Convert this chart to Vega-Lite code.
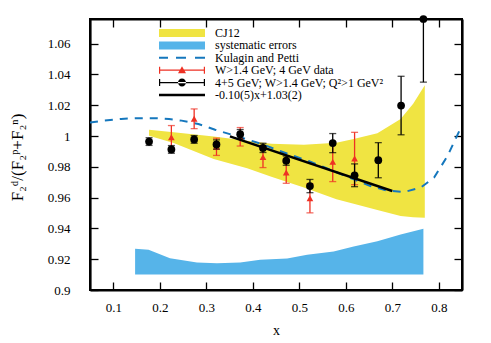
{
  "$schema": "https://vega.github.io/schema/vega-lite/v6.json",
  "width": 372,
  "height": 271,
  "autosize": "none",
  "padding": {"left": 90, "top": 19, "right": 29, "bottom": 53},
  "config": {"font": "Liberation Serif", "view": {"stroke": "black", "strokeWidth": 2}, "axis": {"grid": false}},
  "datasets": {
    "syst": [
      {"x": 0.147, "hi": 0.9268}, {"x": 0.176, "hi": 0.9261}, {"x": 0.222, "hi": 0.9207},
      {"x": 0.28, "hi": 0.9179}, {"x": 0.323, "hi": 0.9174}, {"x": 0.373, "hi": 0.9179},
      {"x": 0.416, "hi": 0.9196}, {"x": 0.474, "hi": 0.9205}, {"x": 0.517, "hi": 0.9229},
      {"x": 0.574, "hi": 0.925}, {"x": 0.617, "hi": 0.9283}, {"x": 0.668, "hi": 0.9316},
      {"x": 0.718, "hi": 0.936}, {"x": 0.767, "hi": 0.9397}
    ],
    "cj12": [
      {"x": 0.177, "lo": 1.0002, "hi": 1.004}, {"x": 0.23, "lo": 0.9955, "hi": 1.0025},
      {"x": 0.316, "lo": 0.985, "hi": 0.9997}, {"x": 0.388, "lo": 0.979, "hi": 0.997},
      {"x": 0.44, "lo": 0.9735, "hi": 0.995}, {"x": 0.51, "lo": 0.9665, "hi": 0.9943},
      {"x": 0.58, "lo": 0.959, "hi": 0.9957}, {"x": 0.617, "lo": 0.956, "hi": 0.998},
      {"x": 0.668, "lo": 0.952, "hi": 1.0018}, {"x": 0.718, "lo": 0.948, "hi": 1.011},
      {"x": 0.745, "lo": 0.9473, "hi": 1.021}, {"x": 0.77, "lo": 0.9469, "hi": 1.033}
    ],
    "kp": [
      {"x": 0.05, "y": 1.0087}, {"x": 0.08, "y": 1.01}, {"x": 0.117, "y": 1.0111},
      {"x": 0.15, "y": 1.0116}, {"x": 0.189, "y": 1.0116}, {"x": 0.22, "y": 1.011},
      {"x": 0.247, "y": 1.01}, {"x": 0.283, "y": 1.0078}, {"x": 0.319, "y": 1.0041},
      {"x": 0.362, "y": 1.0002}, {"x": 0.419, "y": 0.9948}, {"x": 0.477, "y": 0.9882},
      {"x": 0.52, "y": 0.9838}, {"x": 0.58, "y": 0.9765}, {"x": 0.62, "y": 0.9715},
      {"x": 0.653, "y": 0.9675}, {"x": 0.69, "y": 0.9645}, {"x": 0.725, "y": 0.9636},
      {"x": 0.761, "y": 0.9665}, {"x": 0.79, "y": 0.973}, {"x": 0.819, "y": 0.9871},
      {"x": 0.85, "y": 1.007}
    ],
    "red": [
      {"x": 0.225, "y": 0.9992, "err": 0.0076}, {"x": 0.274, "y": 1.0112, "err": 0.0064},
      {"x": 0.322, "y": 0.993, "err": 0.0056}, {"x": 0.373, "y": 0.9995, "err": 0.006},
      {"x": 0.422, "y": 0.9863, "err": 0.0068}, {"x": 0.472, "y": 0.9763, "err": 0.007},
      {"x": 0.523, "y": 0.9596, "err": 0.0095}, {"x": 0.572, "y": 0.9832, "err": 0.0128},
      {"x": 0.619, "y": 0.9854, "err": 0.017}
    ],
    "black": [
      {"x": 0.177, "y": 0.9964, "err": 0.0025}, {"x": 0.225, "y": 0.9913, "err": 0.0025},
      {"x": 0.274, "y": 0.9978, "err": 0.0025}, {"x": 0.322, "y": 0.9945, "err": 0.003},
      {"x": 0.373, "y": 1.0012, "err": 0.003}, {"x": 0.422, "y": 0.9923, "err": 0.003},
      {"x": 0.472, "y": 0.984, "err": 0.003}, {"x": 0.523, "y": 0.9675, "err": 0.0043},
      {"x": 0.572, "y": 0.9954, "err": 0.0062}, {"x": 0.619, "y": 0.9745, "err": 0.0074},
      {"x": 0.67, "y": 0.9843, "err": 0.0114}, {"x": 0.719, "y": 1.0198, "err": 0.019},
      {"x": 0.767, "y": 1.076, "err": 0.041}
    ],
    "fit": [{"x": 0.351, "y": 0.9997}, {"x": 0.7, "y": 0.9643}],
    "legend": [
      {"series": "CJ12"}, {"series": "systematic errors"}, {"series": "Kulagin and Petti"},
      {"series": "W>1.4 GeV; 4 GeV data"}, {"series": "4+5 GeV; W>1.4 GeV; Q²>1 GeV²"},
      {"series": "-0.10(5)x+1.03(2)"}
    ]
  },
  "layer": [
    {
      "data": {"name": "syst"},
      "mark": {"type": "area", "color": "#56b4e9", "opacity": 1},
      "encoding": {
        "x": {"field": "x", "type": "quantitative", "scale": {"domain": [0.05, 0.85], "nice": false, "zero": false},
          "axis": {"orient": "bottom", "values": [0.1, 0.2, 0.3, 0.4, 0.5, 0.6, 0.7, 0.8], "format": "~g",
            "tickSize": -8, "tickWidth": 1.3, "tickColor": "black", "domainColor": "black", "domainWidth": 2.2, "domainOpacity": 1, "tickOpacity": 1,
            "labelFontSize": 13, "labelColor": "black", "labelPadding": 19, "labelFont": "Liberation Serif",
            "title": "x", "titleFontSize": 14, "titleFontWeight": "normal", "titleColor": "black", "titleFont": "Liberation Serif",
            "titleX": 186, "titleY": 40, "titleBaseline": "middle"}},
        "y": {"field": "hi", "type": "quantitative", "scale": {"domain": [0.9, 1.076], "nice": false, "zero": false},
          "axis": {"orient": "left", "values": [0.9, 0.92, 0.94, 0.96, 0.98, 1, 1.02, 1.04, 1.06], "format": "~g",
            "tickSize": -8, "tickWidth": 1.3, "tickColor": "black", "domainColor": "black", "domainWidth": 2.2, "domainOpacity": 1, "tickOpacity": 1,
            "labelFontSize": 13, "labelColor": "black", "labelPadding": 28, "labelFont": "Liberation Serif",
            "title": "F₂ᵈ/(F₂ᵖ+F₂ⁿ)", "titleFontSize": 17, "titleFontWeight": "normal", "titleColor": "black", "titleFont": "Liberation Serif",
            "titleX": -73, "titleY": 138, "titleAngle": -90, "titleAlign": "center", "titleBaseline": "middle"}},
        "y2": {"datum": 0.91}
      }
    },
    {
      "data": {"name": "cj12"},
      "mark": {"type": "area", "color": "#f0e442", "opacity": 1},
      "encoding": {
        "x": {"field": "x", "type": "quantitative",
          "axis": {"orient": "top", "values": [0.1, 0.2, 0.3, 0.4, 0.5, 0.6, 0.7, 0.8], "labels": false,
            "tickSize": -8, "tickWidth": 1.3, "tickColor": "black", "domainColor": "black", "domainWidth": 2.2, "domainOpacity": 1, "tickOpacity": 1, "title": null}},
        "y": {"field": "hi", "type": "quantitative",
          "axis": {"orient": "right", "values": [0.9, 0.92, 0.94, 0.96, 0.98, 1, 1.02, 1.04, 1.06], "labels": false,
            "tickSize": -8, "tickWidth": 1.3, "tickColor": "black", "domainColor": "black", "domainWidth": 2.2, "domainOpacity": 1, "tickOpacity": 1, "title": null}},
        "y2": {"field": "lo"}
      }
    },
    {
      "data": {"name": "kp"},
      "mark": {"type": "line", "color": "#1577bd", "strokeWidth": 2, "strokeDash": [8, 7], "clip": true},
      "encoding": {
        "x": {"field": "x", "type": "quantitative", "axis": null},
        "y": {"field": "y", "type": "quantitative", "axis": null}
      }
    },
    {
      "data": {"name": "red"},
      "mark": {"type": "errorbar", "ticks": true, "size": 7, "thickness": 1.3, "color": "#ee3124"},
      "encoding": {
        "x": {"field": "x", "type": "quantitative", "axis": null},
        "y": {"field": "y", "type": "quantitative", "axis": null},
        "yError": {"field": "err"}
      }
    },
    {
      "data": {"name": "red"},
      "mark": {"type": "point", "shape": "triangle-up", "filled": true, "size": 45, "color": "#ee3124", "opacity": 1},
      "encoding": {
        "x": {"field": "x", "type": "quantitative", "axis": null},
        "y": {"field": "y", "type": "quantitative", "axis": null}
      }
    },
    {
      "data": {"name": "fit"},
      "mark": {"type": "line", "color": "black", "strokeWidth": 2.4},
      "encoding": {
        "x": {"field": "x", "type": "quantitative", "axis": null},
        "y": {"field": "y", "type": "quantitative", "axis": null}
      }
    },
    {
      "data": {"name": "black"},
      "mark": {"type": "errorbar", "ticks": true, "size": 7, "thickness": 1.3, "color": "black", "clip": true},
      "encoding": {
        "x": {"field": "x", "type": "quantitative", "axis": null},
        "y": {"field": "y", "type": "quantitative", "axis": null},
        "yError": {"field": "err"}
      }
    },
    {
      "data": {"name": "black"},
      "mark": {"type": "point", "shape": "circle", "filled": true, "size": 60, "color": "black", "opacity": 1},
      "encoding": {
        "x": {"field": "x", "type": "quantitative", "axis": null},
        "y": {"field": "y", "type": "quantitative", "axis": null}
      }
    },
    {
      "data": {"name": "legend"},
      "mark": {"type": "point", "filled": true, "opacity": 0},
      "encoding": {
        "color": {"field": "series", "type": "nominal",
          "scale": {"domain": ["CJ12", "systematic errors", "Kulagin and Petti", "W>1.4 GeV; 4 GeV data", "4+5 GeV; W>1.4 GeV; Q²>1 GeV²", "-0.10(5)x+1.03(2)"],
            "range": ["#f0e442", "#56b4e9", "#1577bd", "#ee3124", "black", "black"]},
          "legend": {"title": null, "orient": "none", "legendX": 63, "legendY": 8, "symbolSize": 4, "symbolStrokeWidth": 0,
            "symbolOpacity": 1, "labelFont": "Liberation Serif", "labelFontSize": 12, "labelColor": "black",
            "labelOffset": 50, "labelLimit": 300, "rowPadding": 0.4, "padding": 0}},
        "shape": {"field": "series", "type": "nominal",
          "scale": {"domain": ["CJ12", "systematic errors", "Kulagin and Petti", "W>1.4 GeV; 4 GeV data", "4+5 GeV; W>1.4 GeV; Q²>1 GeV²", "-0.10(5)x+1.03(2)"],
            "range": [
              "M0,-4H46V4H0Z",
              "M0,-4H46V4H0Z",
              "M0,-1H9V1H0ZM17,-1H27V1H17ZM36,-1H46V1H36Z",
              "M0,-0.6H46V0.6H0ZM0,-3.5H1.2V3.5H0ZM44.8,-3.5H46V3.5H44.8ZM19,3L23,-4L27,3Z",
              "M0,-0.6H46V0.6H0ZM0,-3.5H1.2V3.5H0ZM44.8,-3.5H46V3.5H44.8ZM19,0A4,4 0 1,0 27,0A4,4 0 1,0 19,0Z",
              "M0,-1.2H46V1.2H0Z"
            ]},
          "legend": {"title": null, "orient": "none", "legendX": 63, "legendY": 8, "symbolSize": 4, "symbolStrokeWidth": 0,
            "symbolOpacity": 1, "labelFont": "Liberation Serif", "labelFontSize": 12, "labelColor": "black",
            "labelOffset": 50, "labelLimit": 300, "rowPadding": 0.4, "padding": 0}}
      }
    }
  ],
  "resolve": {"axis": {"x": "independent", "y": "independent"}}
}
